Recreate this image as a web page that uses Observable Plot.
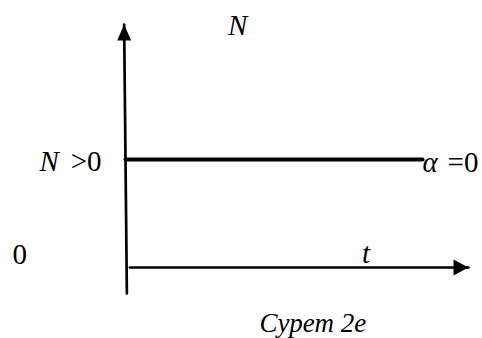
<!DOCTYPE html>
<html><head><meta charset="utf-8">
<script src="https://cdn.jsdelivr.net/npm/d3@7"></script>
<script src="https://cdn.jsdelivr.net/npm/@observablehq/plot@0.6"></script>
<style>html,body{margin:0;padding:0;background:#fff}svg{display:block}</style>
</head><body><div id="chart"></div>
<script>
// Diagram values (time t, quantity N)
const tAxisExtent = [0.13, 10];          // horizontal t axis, start .. arrow tip
const nAxisExtent = [-0.24, 2.25];       // vertical N axis, bottom .. arrow tip
const nAxisLean = [0.04, -0.04];         // t offset of the N axis at bottom / top
const levelT = [0, 8.66];                // constant line extent
const levelN = [1, 1];                   // N > 0 stays constant (α = 0)
const axisNames = ["N", "t"];
const levelLabel = ["N", ">0"];
const rateLabel = ["α", "=0"];
const originLabel = ["0"];
const captionText = ["Сурет 2е"];

const vAxis = nAxisExtent.map((n, i) => ({t: nAxisLean[i], n}));
const hAxis = tAxisExtent.map(t => ({t, n: 0}));
const level = levelT.map((t, i) => ({t, n: levelN[i]}));

const upHead = {draw(c) { c.moveTo(0, 0); c.lineTo(7, 16); c.lineTo(-7, 16); c.closePath(); }};
const rightHead = {draw(c) { c.moveTo(0, 0); c.lineTo(-15, -8); c.lineTo(-15, 8); c.closePath(); }};

const serif = "Liberation Serif";
const txt = (text, x, y, opts = {}) => Plot.text(text, {
  x: () => x, y: () => y, text: d => d, lineAnchor: "bottom",
  fontFamily: serif, fontSize: 29, fill: "#000", ...opts
});

const chart = Plot.plot({
  width: 482, height: 338, margin: 0,
  x: {domain: [0, 10], range: [125, 468], axis: null},
  y: {domain: [0, 1], range: [267, 159], axis: null},
  style: {background: "#fff", overflow: "visible", fontFamily: "Liberation Serif"},
  marks: [
    Plot.line(vAxis, {x: "t", y: "n", stroke: "#000", strokeWidth: 2.7}),
    Plot.line(hAxis, {x: "t", y: "n", stroke: "#000", strokeWidth: 2.7}),
    Plot.dot([vAxis[1]], {x: "t", y: "n", symbol: upHead, fill: "#000", stroke: null, r: 8}),
    Plot.dot([hAxis[1]], {x: "t", y: "n", symbol: rightHead, fill: "#000", stroke: null, r: 8}),
    Plot.line(level, {x: "t", y: "n", stroke: "#000", strokeWidth: 4}),
    txt([axisNames[0]], 3.27, 2.15, {fontStyle: "italic", textAnchor: "middle"}),
    txt([axisNames[1]], 7.01, 0.04, {fontStyle: "italic", textAnchor: "middle"}),
    txt([levelLabel[0]], -2.51, 0.89, {fontStyle: "italic", textAnchor: "start"}),
    txt([levelLabel[1]], -0.70, 0.89, {textAnchor: "end"}),
    txt([rateLabel[0]], 8.66, 0.88, {fontStyle: "italic", textAnchor: "start"}),
    txt([rateLabel[1]], 10.29, 0.88, {textAnchor: "end"}),
    txt(originLabel, -3.08, 0.03, {textAnchor: "middle"}),
    txt(captionText, 3.91, -0.60, {fontStyle: "italic", textAnchor: "start", fontSize: 27})
  ]
});
document.getElementById("chart").append(chart);
</script>
</body></html>
